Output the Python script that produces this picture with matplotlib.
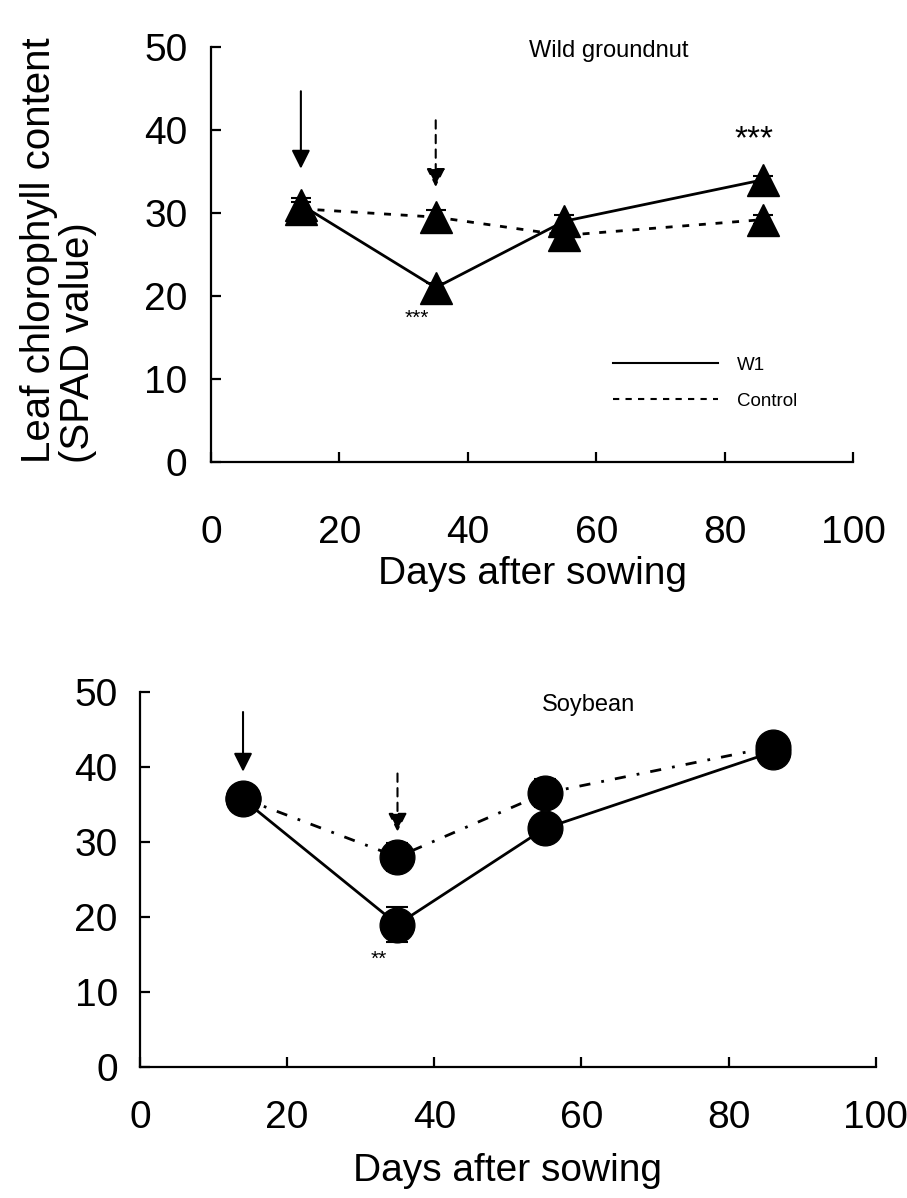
import matplotlib.pyplot as plt

plt.rcParams['font.family'] = ['Liberation Sans', 'DejaVu Sans']

days = [14, 35, 55, 86]

# wild groundnut
gn_w1 = [31.0, 21.0, 29.0, 34.0]
gn_w1_err = [0.8, 0.6, 0.8, 0.5]
gn_ctrl = [30.5, 29.5, 27.3, 29.2]
gn_ctrl_err = [0.8, 0.8, 1.0, 0.5]

# soybean
sb_w1 = [35.7, 19.0, 31.8, 42.0]
sb_w1_err = [0.6, 2.3, 0.6, 1.5]
sb_ctrl = [35.8, 28.0, 36.5, 42.7]
sb_ctrl_err = [0.6, 1.9, 1.9, 0.8]

xticks = [0, 20, 40, 60, 80, 100]
yticks = [0, 10, 20, 30, 40, 50]

fig = plt.figure(figsize=(9.07, 11.98), dpi=100)
ax1 = fig.add_axes([0.2326, 0.6144, 0.7080, 0.3464])
ax2 = fig.add_axes([0.1544, 0.1093, 0.8110, 0.3131])


def style(ax, xpad, ypad, size):
    ax.set_xlim(0, 100)
    ax.set_ylim(0, 50)
    ax.set_xticks(xticks)
    ax.set_yticks(yticks)
    for s in ['top', 'right']:
        ax.spines[s].set_visible(False)
    for s in ['left', 'bottom']:
        ax.spines[s].set_linewidth(1.6)
    ax.tick_params(axis='x', direction='in', length=7, width=1.6, labelsize=size, pad=xpad)
    ax.tick_params(axis='y', direction='in', length=7, width=1.6, labelsize=size, pad=ypad)


# top panel
ax1.errorbar(days, gn_ctrl, yerr=gn_ctrl_err, color='black', ls=(0, (2.5, 3.5)), lw=2,
             marker='^', ms=23, capsize=7, elinewidth=1.5, capthick=1.5, zorder=3)
ax1.errorbar(days, gn_w1, yerr=gn_w1_err, color='black', ls='-', lw=2,
             marker='^', ms=23, capsize=7, elinewidth=1.5, capthick=1.5, zorder=4)
style(ax1, 38, 17, 28)
ax1.set_xlabel('Days after sowing', fontsize=28, labelpad=4)
ax1.text(62, 49.5, 'Wild groundnut', fontsize=17, ha='center', va='center')
ax1.text(days[3] - 1.5, 38.8, '***', fontsize=24, ha='center', va='center')
ax1.text(days[1] - 3, 17.3, '***', fontsize=15, ha='center', va='center')
ax1.annotate('', xy=(days[0], 35), xytext=(days[0], 45),
             arrowprops=dict(arrowstyle='-|>', color='black', lw=1.5, mutation_scale=28))
ax1.annotate('', xy=(days[1], 32.8), xytext=(days[1], 41.5),
             arrowprops=dict(arrowstyle='-|>', color='black', lw=1.5, ls=(0, (4, 3)),
                             mutation_scale=28))

h_w1 = plt.Line2D([], [], color='black', lw=1.5, ls='-')
h_ct = plt.Line2D([], [], color='black', lw=1.5, ls=(0, (3, 3)))
ax1.legend([h_w1, h_ct], ['W1', 'Control'], loc='center left', bbox_to_anchor=(0.6, 0.19),
           frameon=False, fontsize=13.5, handlelength=5.6, labelspacing=1.0, handletextpad=1.0)

fig.text(0.022, 0.6135, 'Leaf chlorophyll content\n(SPAD value)', rotation=90,
         fontsize=29, ha='left', va='bottom', multialignment='left', linespacing=1.05)

# bottom panel
ax2.errorbar(days, sb_ctrl, yerr=sb_ctrl_err, color='black', ls=(0, (4, 4, 1, 4)), lw=2,
             marker='o', ms=25, capsize=8, elinewidth=1.5, capthick=1.5, zorder=3)
ax2.errorbar(days, sb_w1, yerr=sb_w1_err, color='black', ls='-', lw=2,
             marker='o', ms=25, capsize=8, elinewidth=1.5, capthick=1.5, zorder=4)
style(ax2, 24, 16, 28)
ax2.set_xlabel('Days after sowing', fontsize=28, labelpad=12)
ax2.text(61, 48.3, 'Soybean', fontsize=17, ha='center', va='center')
ax2.text(days[1] - 2.5, 14.3, '**', fontsize=15, ha='center', va='center')
ax2.annotate('', xy=(days[0], 39), xytext=(days[0], 47.7),
             arrowprops=dict(arrowstyle='-|>', color='black', lw=1.5, mutation_scale=28))
ax2.annotate('', xy=(days[1], 31), xytext=(days[1], 39.5),
             arrowprops=dict(arrowstyle='-|>', color='black', lw=1.5, ls=(0, (4, 3)),
                             mutation_scale=28))

fig.savefig('out.png', dpi=100)
